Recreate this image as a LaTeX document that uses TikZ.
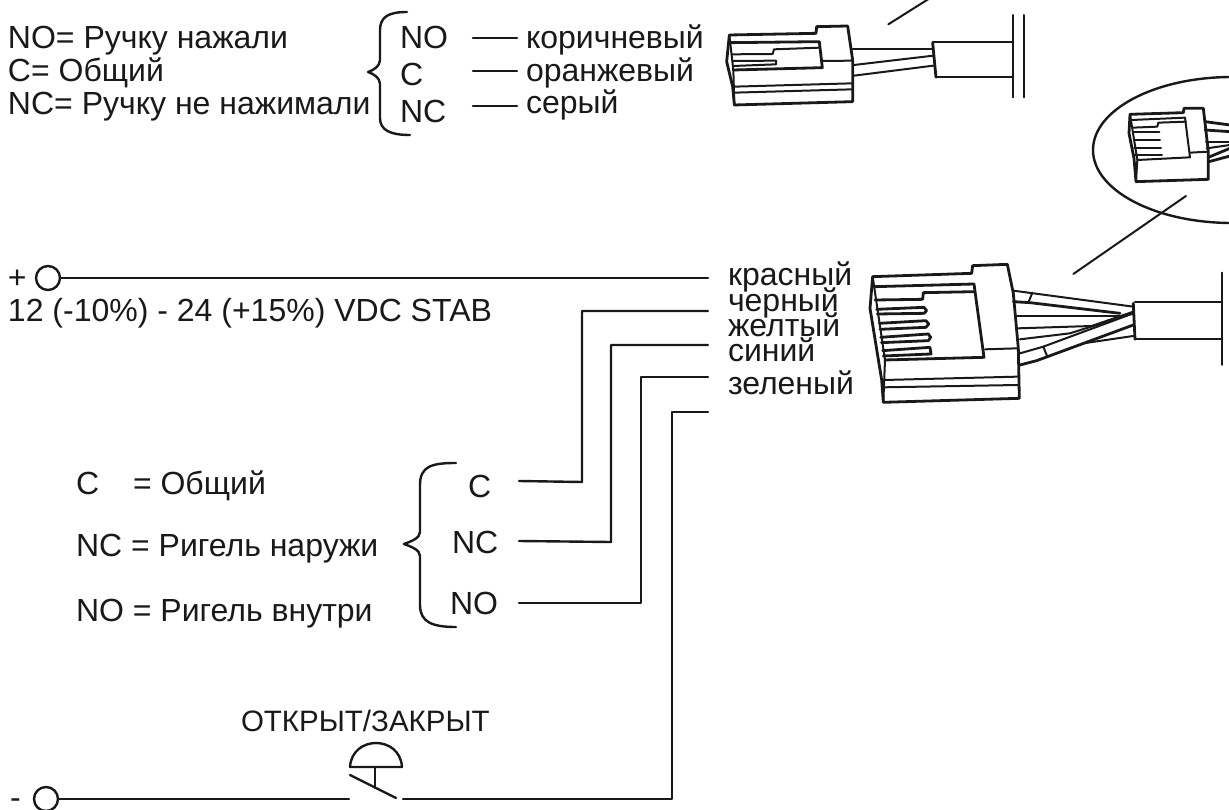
\documentclass[tikz,border=0pt]{standalone}
\usepackage{fontspec}
\setmainfont{Liberation Sans}
\tikzset{
  txt/.style={anchor=base west,inner sep=0pt,outer sep=0pt,font=\fontsize{32}{34}\selectfont,text=black!90},
  wire/.style={draw=black!90,line width=2.4pt,line join=round,line cap=round},
  part/.style={draw=black!90,line width=2.8pt,line join=round,line cap=round},
  thin part/.style={draw=black!90,line width=2pt,line join=round,line cap=round},
  term/.style={draw=black!90,line width=2.4pt,circle,minimum size=24pt,inner sep=0pt,outer sep=0pt},
  zoomA/.style={shift={(700,0)},x=0.3333pt,y=-0.3333pt},
  zoomB/.style={shift={(1060,80)},x=0.3333pt,y=-0.3333pt},
  zoomC/.style={shift={(850,250)},x=0.3333pt,y=-0.3333pt}
}
\begin{document}
\begin{tikzpicture}[x=1pt,y=-1pt]
\useasboundingbox (0,0) rectangle (1229,810);
\clip (0,0) rectangle (1229,810);
% top-left texts
\node[txt] (t1) at (8,49) {NO= Ручку нажали};
\node[txt] (t2) at (8,82) {C= Общий};
\node[txt] (t3) at (8,115) {NC= Ручку не нажимали};
\node[txt] (n1) at (400,49) {NO};
\node[txt] (n2) at (400,86) {C};
\node[txt] (n3) at (400,123) {NC};
\node[txt] (c1) at (526,49) {коричневый};
\node[txt] (c2) at (526,82) {оранжевый};
\node[txt] (c3) at (526,114) {серый};
\coordinate (l1a) at (473,38); \coordinate (l1b) at (517,38);
\coordinate (l2a) at (473,71); \coordinate (l2b) at (517,71);
\coordinate (l3a) at (473,106); \coordinate (l3b) at (517,106);
\draw[wire] (l1a)--(l1b);
\draw[wire] (l2a)--(l2b);
\draw[wire] (l3a)--(l3b);
\draw[wire] (407,12) .. controls (390,12) and (380,16) .. (380,30) -- (380,60)
  .. controls (380,66) and (374,70) .. (368,72)
  .. controls (374,74) and (380,78) .. (380,84) -- (380,118)
  .. controls (380,130) and (390,135) .. (410,135);
% main labels
\node[txt] (plus) at (8,289) {+};
\node[term] (pc) at (48,278) {};
\node[txt] (vdc) at (8,322) {12 (-10\%) - 24 (+15\%) VDC STAB};
\node[txt] (r) at (728,286) {красный};
\node[txt] (k) at (728,312) {черный};
\node[txt] (y) at (728,337) {желтый};
\node[txt] (s) at (728,362) {синий};
\node[txt] (z) at (728,394) {зеленый};
\coordinate (rEnd) at (708,278);
\draw[wire] (pc) -- (rEnd);
% contacts
\node[txt] (ca) at (76,494) {C};
\node[txt] (cb) at (133,494) {= Общий};
\node[txt] (cc) at (76,556) {NC = Ригель наружи};
\node[txt] (cd) at (76,621) {NO = Ригель внутри};
\node[txt] (mc) at (468,497) {C};
\node[txt] (mnc) at (452,553) {NC};
\node[txt] (mno) at (450,614) {NO};
\draw[wire] (456,463) .. controls (432,463) and (420,466) .. (420,485) -- (420,532)
  .. controls (420,538) and (412,541) .. (404,544)
  .. controls (412,547) and (420,550) .. (420,556) -- (420,605)
  .. controls (420,622) and (432,627) .. (456,627);
\coordinate (kEnd) at (708,311); \coordinate (yEnd) at (708,345);
\coordinate (sEnd) at (708,377); \coordinate (zEnd) at (708,412);
\coordinate (kA) at (519,481); \coordinate (yA) at (519,541); \coordinate (sA) at (519,603);
\draw[wire] (kEnd) -- (582,311) -- (582,482) -- (kA);
\draw[wire] (yEnd) -- (611,345) -- (611,542) -- (yA);
\draw[wire] (sEnd) -- (641,377) -- (641,603) -- (sA);
\draw[wire] (zEnd) -- (672,412) -- (672,799) -- (403,799);
% switch
\node[txt,font=\fontsize{29.5}{32}\selectfont] (op) at (241,731) {ОТКРЫТ/ЗАКРЫТ};
\node[txt] (minus) at (10,808) {-};
\node[term] (mc0) at (46,799) {};
\coordinate (swL) at (349,799);
\draw[wire] (mc0) -- (swL);
\draw[wire] (350,775) -- (396,798);
\draw[wire] (375,767) -- (375,788);
\draw[wire] (350,767) .. controls (352,735) and (400,735) .. (402,767) -- cycle;
% top connector
\begin{scope}[zoomA]
\draw[part] (88,105) -- (348,100) -- (350,80) -- (443,78) -- (458,180) -- (458,305) -- (103,315) -- (98,260) -- (80,185) -- cycle;
\draw[part] (90,128) -- (358,125) -- (367,203) -- (100,210);
\draw[thin part] (88,105) -- (100,210) -- (103,315);
\draw[thin part] (95,163) -- (218,162) -- (222,148) -- (360,143);
\draw[thin part] (367,183) -- (458,182);
\draw[thin part] (100,183) -- (228,182) -- (228,193) -- (100,198);
\draw[thin part] (103,260) -- (458,250);
\draw[thin part] (103,278) -- (458,268);
\draw[thin part] (458,147) -- (700,147);
\draw[thin part] (462,195) -- (700,167);
\draw[thin part] (462,227) -- (700,197);
\draw[part] (698,128) -- (708,232);
\draw[thin part] (698,125) -- (940,125);
\draw[thin part] (708,232) -- (940,232);
\draw[thin part] (938,45) -- (938,292);
\draw[thin part] (972,45) -- (972,292);
\coordinate (pa) at (565,73); \coordinate (pb) at (700,-12);
\draw[thin part] (pa) -- (pb);
\end{scope}
% circle
\draw[wire] (1232,150) ellipse [x radius=139pt,y radius=73pt];
\begin{scope}[zoomB]
\draw[part] (210,103) -- (370,98) -- (372,85) -- (430,85) -- (445,215) -- (445,298) -- (228,305) -- (222,235) -- (207,160) -- cycle;
\draw[thin part] (215,120) -- (375,113) -- (390,232) -- (232,240);
\draw[thin part] (210,103) -- (232,240) -- (228,305);
\draw[thin part] (218,143) -- (292,140) -- (295,128) -- (378,125);
\draw[thin part] (390,218) -- (445,215);
\foreach \a/\b in {155/298,180/300,203/303,225/306}{
  \draw[thin part] (222,\a) -- (\b,\a);
}
\draw[part] (435,125) -- (510,135);
\draw[part] (435,150) -- (510,155);
\draw[thin part] (438,185) -- (510,185);
\draw[thin part] (440,205) -- (510,195);
\draw[part] (445,232) -- (510,205);
\draw[part] (447,245) -- (510,228);
\coordinate (qa) at (378,348); \coordinate (qb) at (40,582);
\draw[thin part] (qa) -- (qb);
\end{scope}
% main connector
\begin{scope}[zoomC]
\draw[part] (68,80) -- (365,70) -- (368,47) -- (472,43) -- (490,130) -- (505,295) -- (508,445) -- (100,457) -- (95,390) -- (60,175) -- cycle;
\draw[part] (75,110) -- (372,102) -- (402,322) -- (105,330);
\draw[thin part] (68,80) -- (105,330) -- (100,457);
\draw[part] (75,150) -- (218,148) -- (220,128) -- (374,125);
\draw[thin part] (405,298) -- (503,295);
\draw[thin part] (103,390) -- (503,380);
\draw[thin part] (100,412) -- (505,405);
\draw[part] (80,178) -- (222,172) -- (230,182) -- (222,190) -- (82,192);
\draw[part] (88,220) -- (228,212) -- (236,222) -- (228,232) -- (90,238);
\draw[part] (92,262) -- (235,252) -- (242,262) -- (235,272) -- (94,278);
\draw[part] (98,302) -- (240,292) -- (243,312) -- (100,318);
\draw[thin part] (490,122) -- (850,170);
\draw[part] (490,155) -- (540,158) -- (810,190);
\draw[thin part] (497,198) -- (830,198);
\draw[thin part] (505,235) -- (725,228) -- (850,185);
\draw[thin part] (510,268) -- (660,250) -- (850,190);
\draw[thin part] (510,310) -- (580,290) -- (850,190);
\draw[part] (510,345) -- (560,332) -- (850,225);
\draw[thin part] (700,280) -- (850,258);
\draw[thin part] (547,128) -- (535,158);
\draw[thin part] (580,290) -- (592,320);
\draw[part] (850,160) -- (855,268);
\draw[thin part] (855,155) -- (1115,155);
\draw[thin part] (855,268) -- (1115,268);
\draw[thin part] (1115,68) -- (1115,345);
\end{scope}
\end{tikzpicture}
\end{document}
